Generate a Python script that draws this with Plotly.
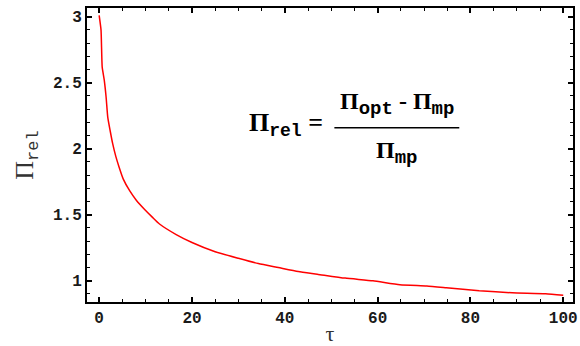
import plotly.graph_objects as go

tau = [0, 0.4, 0.65, 1.1, 1.5, 1.85, 2.35, 2.9, 3.6, 4.3, 5.2, 6.6, 8, 9.8, 11.5, 13, 16.6,
       20, 25, 30, 34.3, 38.6, 42.9, 47, 53, 59, 64.8, 70.6, 74.8, 81.9, 89, 96.2, 100]
pi_rel = [3.01, 2.90, 2.62, 2.52, 2.39, 2.24, 2.14, 2.04, 1.94, 1.86, 1.77, 1.68, 1.61,
          1.54, 1.48, 1.43, 1.35, 1.29, 1.22, 1.17, 1.13, 1.10, 1.07, 1.05, 1.02, 1.00, 0.97,
          0.96, 0.947, 0.924, 0.909, 0.902, 0.89]

x_ticks = [0, 20, 40, 60, 80, 100]
y_ticks = [1, 1.5, 2, 2.5, 3]
y_tick_text = ["1", "1.5", "2", "2.5", "3"]

MONO = "Liberation Mono"
SERIF = "Liberation Serif"

def sub(t, size):
    return f"<sub><span style='font-family:{MONO};font-size:{size}px'>{t}</span></sub>"

fig = go.Figure()
fig.add_trace(go.Scatter(x=tau, y=pi_rel, mode="lines", line_shape="spline",
                         line=dict(color="#ff0000", width=1.5, smoothing=0.5), hoverinfo="skip"))

axis_common = dict(showline=True, linecolor="black", linewidth=2, mirror="ticks",
                   ticks="inside", ticklen=5, tickwidth=1.5, tickcolor="black",
                   showgrid=False, zeroline=False, ticklabeloverflow="allow",
                   tickfont=dict(family=MONO, size=16, color="#1a1a1a", weight="bold"))

fig.update_layout(
    width=580, height=346,
    margin=dict(l=87, r=2, t=8, b=43),
    paper_bgcolor="white", plot_bgcolor="white",
    showlegend=False,
    xaxis=dict(range=[-2.62, 102.1], tickvals=x_ticks,
               minor=dict(dtick=5, tick0=0, ticks="inside", ticklen=3, tickwidth=1, tickcolor="black"),
               title=dict(text="τ", font=dict(family=SERIF, size=22, color="#333"), standoff=0),
               **axis_common),
    yaxis=dict(range=[0.839, 3.066], tickvals=y_ticks, ticktext=y_tick_text,
               minor=dict(dtick=0.1, tick0=0, ticks="inside", ticklen=3, tickwidth=1, tickcolor="black"),
               title=dict(text="Π" + sub("rel", 17), font=dict(family=SERIF, size=26, color="#333"), standoff=12),
               **axis_common),
)

fig.add_annotation(xref="paper", yref="paper", x=0.637, y=0.675,
                   text="<b>Π" + sub("opt", 19) + " - Π" + sub("mp", 19) + "</b>",
                   showarrow=False, font=dict(family=SERIF, size=24, color="black"), yanchor="middle")
fig.add_annotation(xref="paper", yref="paper", x=0.637, y=0.508, text="<b>Π" + sub("mp", 19) + "</b>",
                   showarrow=False, font=dict(family=SERIF, size=24, color="black"), yanchor="middle")
fig.add_annotation(xref="paper", yref="paper", x=0.489, y=0.603, text="<b>Π" + sub("rel", 18) + " =</b>",
                   showarrow=False, font=dict(family=SERIF, size=26, color="black"),
                   xanchor="right", yanchor="middle")
fig.add_shape(type="line", xref="paper", yref="paper", x0=0.509, x1=0.766, y0=0.593, y1=0.593,
              line=dict(color="black", width=1.5))

fig.write_html("out.html")
